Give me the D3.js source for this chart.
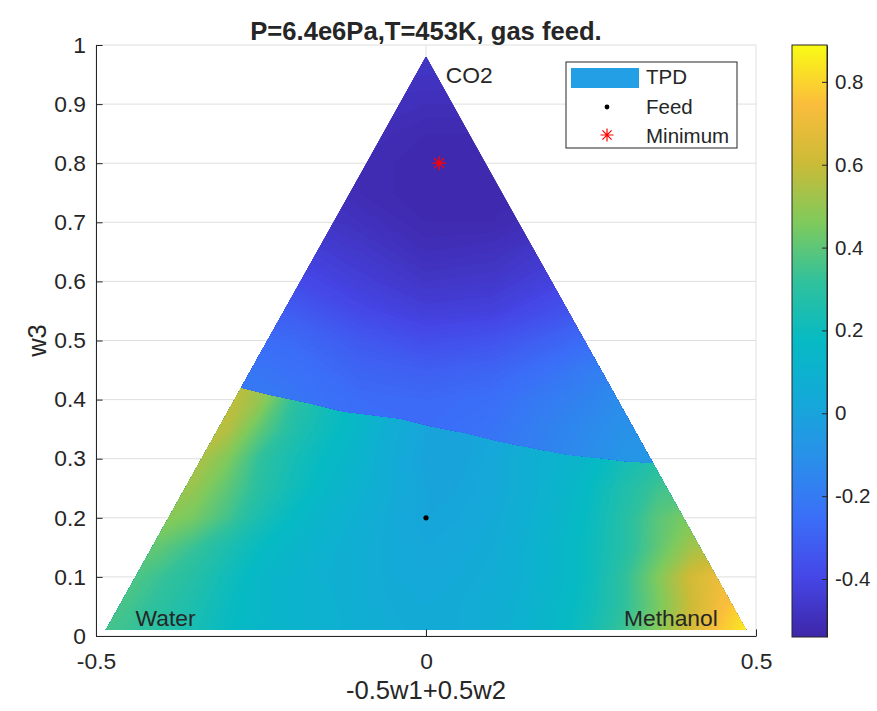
<!DOCTYPE html>
<html>
<head>
<meta charset="utf-8">
<script src="https://cdn.jsdelivr.net/npm/d3@7"></script>
<style>
  body { margin: 0; background: #fff; }
  text { font-family: "Liberation Sans", Arial, Helvetica, sans-serif; fill: #262626; }
</style>
</head>
<body>
<svg id="chart" width="877" height="711"></svg>
<script>
// ternary grid, plotted as x = -0.5*w1 + 0.5*w2, y = w3
const cornerW = [[0.98, 0.01, 0.01], [0.01, 0.98, 0.01], [0.01, 0.01, 0.98]]
const cornerNames = ['Water', 'Methanol', 'CO2']
const cornerLabelAt = [[-0.44, 0.03], [0.30, 0.03], [0.03, 0.95]]

const feed = [0, 0.2]
const minimum = [0.02, 0.8]

const xTicks = [-0.5, 0, 0.5]
const yTicks = [0, 0.1, 0.2, 0.3, 0.4, 0.5, 0.6, 0.7, 0.8, 0.9, 1]
const cbTicks = [-0.4, -0.2, 0, 0.2, 0.4, 0.6, 0.8]
const colorLimits = [-0.54, 0.889]

// TPD below the phase split (rows: w3, cols: x)
const lowerX = [-0.5, -0.45, -0.4, -0.35, -0.3, -0.25, -0.2, -0.15, -0.1, -0.05, 0,
  0.05, 0.1, 0.15, 0.2, 0.25, 0.3, 0.35, 0.4, 0.45, 0.5]
const lowerW3 = [0, 0.05, 0.1, 0.15, 0.2, 0.25, 0.3, 0.35, 0.4, 0.45]
const tpdLower = [
  [0.36, 0.33, 0.29, 0.23, 0.18, 0.14, 0.12, 0.10, 0.08, 0.06, 0.04, 0.05, 0.07, 0.11, 0.16, 0.23, 0.34, 0.47, 0.63, 0.79, 0.89],
  [0.38, 0.35, 0.30, 0.25, 0.19, 0.15, 0.12, 0.10, 0.07, 0.05, 0.04, 0.05, 0.07, 0.10, 0.15, 0.21, 0.31, 0.44, 0.60, 0.74, 0.84],
  [0.41, 0.38, 0.33, 0.28, 0.21, 0.15, 0.12, 0.09, 0.07, 0.04, 0.03, 0.04, 0.06, 0.09, 0.14, 0.20, 0.31, 0.46, 0.62, 0.71, 0.74],
  [0.45, 0.43, 0.40, 0.33, 0.25, 0.18, 0.14, 0.10, 0.07, 0.04, 0.02, 0.03, 0.05, 0.09, 0.14, 0.20, 0.28, 0.40, 0.52, 0.58, 0.60],
  [0.50, 0.50, 0.49, 0.44, 0.35, 0.24, 0.17, 0.12, 0.08, 0.04, 0.01, 0.02, 0.04, 0.08, 0.13, 0.19, 0.28, 0.39, 0.46, 0.48, 0.50],
  [0.54, 0.54, 0.53, 0.50, 0.40, 0.29, 0.21, 0.15, 0.10, 0.05, 0.01, 0.01, 0.03, 0.07, 0.12, 0.18, 0.26, 0.34, 0.38, 0.40, 0.40],
  [0.56, 0.56, 0.56, 0.56, 0.46, 0.31, 0.23, 0.17, 0.12, 0.05, 0.00, 0.00, 0.03, 0.07, 0.11, 0.15, 0.22, 0.28, 0.30, 0.30, 0.30],
  [0.58, 0.58, 0.58, 0.58, 0.56, 0.40, 0.27, 0.20, 0.14, 0.06, 0.01, 0.00, 0.02, 0.05, 0.09, 0.13, 0.20, 0.25, 0.25, 0.25, 0.25],
  [0.60, 0.60, 0.60, 0.60, 0.60, 0.50, 0.31, 0.22, 0.16, 0.08, 0.02, 0.00, 0.02, 0.05, 0.08, 0.12, 0.18, 0.20, 0.20, 0.20, 0.20],
  [0.60, 0.60, 0.60, 0.60, 0.60, 0.55, 0.35, 0.24, 0.17, 0.09, 0.03, 0.00, 0.02, 0.05, 0.08, 0.12, 0.16, 0.18, 0.18, 0.18, 0.18]
]

// TPD above the phase split
const upperX = [-0.5, -0.4, -0.3, -0.2, -0.1, 0, 0.1, 0.2, 0.3, 0.4, 0.5]
const upperW3 = [0.25, 0.3, 0.35, 0.4, 0.45, 0.5, 0.55, 0.6, 0.65, 0.7, 0.75, 0.8, 0.85, 0.9, 0.95, 1]
const tpdUpper = [
  [-0.22, -0.22, -0.22, -0.23, -0.24, -0.24, -0.21, -0.14, -0.07, -0.03, -0.01],
  [-0.22, -0.22, -0.22, -0.23, -0.24, -0.25, -0.22, -0.15, -0.08, -0.05, -0.03],
  [-0.21, -0.21, -0.21, -0.22, -0.25, -0.26, -0.23, -0.16, -0.10, -0.07, -0.05],
  [-0.20, -0.20, -0.20, -0.22, -0.26, -0.27, -0.25, -0.19, -0.12, -0.10, -0.10],
  [-0.21, -0.21, -0.21, -0.24, -0.29, -0.31, -0.29, -0.23, -0.16, -0.14, -0.14],
  [-0.25, -0.25, -0.25, -0.27, -0.33, -0.37, -0.35, -0.29, -0.22, -0.20, -0.20],
  [-0.30, -0.30, -0.30, -0.32, -0.39, -0.43, -0.42, -0.36, -0.28, -0.26, -0.26],
  [-0.36, -0.36, -0.36, -0.38, -0.43, -0.47, -0.46, -0.41, -0.35, -0.33, -0.33],
  [-0.41, -0.41, -0.41, -0.42, -0.46, -0.50, -0.49, -0.45, -0.41, -0.41, -0.41],
  [-0.45, -0.45, -0.45, -0.46, -0.49, -0.52, -0.52, -0.49, -0.46, -0.46, -0.46],
  [-0.47, -0.47, -0.47, -0.48, -0.51, -0.53, -0.53, -0.51, -0.48, -0.48, -0.48],
  [-0.48, -0.48, -0.48, -0.49, -0.51, -0.53, -0.53, -0.51, -0.49, -0.49, -0.49],
  [-0.48, -0.48, -0.48, -0.49, -0.50, -0.52, -0.52, -0.50, -0.49, -0.49, -0.49],
  [-0.47, -0.47, -0.47, -0.48, -0.49, -0.50, -0.50, -0.49, -0.48, -0.48, -0.48],
  [-0.46, -0.46, -0.46, -0.46, -0.47, -0.48, -0.48, -0.47, -0.46, -0.46, -0.46],
  [-0.45, -0.45, -0.45, -0.45, -0.46, -0.46, -0.46, -0.46, -0.45, -0.45, -0.45]
]

// where the TPD jumps (x, w3), left to right
const splitLine = [[-0.32, 0.425], [-0.279, 0.42], [-0.236, 0.408], [-0.176, 0.394], [-0.125, 0.38],
  [-0.04, 0.368], [0.011, 0.354], [0.062, 0.343], [0.112, 0.329], [0.162, 0.318], [0.213, 0.307],
  [0.264, 0.301], [0.30, 0.296], [0.38, 0.29]]

// parula colormap
const parulaAt = [0, 0.1, 0.2, 0.3, 0.4, 0.5, 0.6, 0.7, 0.8, 0.9, 1]
const parula = ['#3e26a8', '#4546e6', '#3b6ef8', '#2a8fea', '#14a9d8', '#06bac4',
  '#30c19c', '#7fca5c', '#cbbb37', '#fbbd3c', '#f9fb15']

const svg = d3.select('#chart')
const defs = svg.append('defs')

const x = d3.scaleLinear().domain([-0.5, 0.5]).range([96, 756])
const y = d3.scaleLinear().domain([0, 1]).range([636, 45])
const cb = d3.scaleLinear().domain(colorLimits).range([637, 45])
const color = d3.scaleLinear()
  .domain(parulaAt.map(t => colorLimits[0] + t * (colorLimits[1] - colorLimits[0])))
  .range(parula)
  .clamp(true)

const line = d3.line().x(d => x(d[0])).y(d => y(d[1]))

// grid lines behind the data
const grid = svg.append('g').attr('stroke', '#dfdfdf').attr('stroke-width', 1)
yTicks.forEach(v => {
  grid.append('line').attr('x1', x(-0.5)).attr('x2', x(0.5)).attr('y1', y(v)).attr('y2', y(v))
})
xTicks.forEach(v => {
  grid.append('line').attr('x1', x(v)).attr('x2', x(v)).attr('y1', y(0)).attr('y2', y(1))
})

// clip regions
const tri = cornerW.map(w => [-0.5 * w[0] + 0.5 * w[1], w[2]])
defs.append('clipPath').attr('id', 'tri')
  .append('path').attr('d', line(tri) + 'Z')
const upperRegion = splitLine.concat([[0.6, 0.28], [0.6, 1.1], [-0.6, 1.1], [-0.6, 0.425]])
defs.append('clipPath').attr('id', 'upper')
  .append('path').attr('d', line(upperRegion) + 'Z')

const levelStep = 0.01
const levels = d3.range(-0.56, 0.9, levelStep)

function drawField (g, xs, ws, rows) {
  const dx = xs[1] - xs[0]
  const dw = ws[1] - ws[0]
  const proj = d3.geoTransform({
    point: function (px, py) {
      this.stream.point(x(xs[0] + (px - 0.5) * dx), y(ws[0] + (py - 0.5) * dw))
    }
  })
  const path = d3.geoPath(proj)
  const bands = d3.contours().size([xs.length, ws.length]).thresholds(levels)(rows.flat())
  g.selectAll('path')
    .data(bands.filter(b => b.coordinates.length))
    .join('path')
    .attr('d', path)
    .attr('fill', d => color(d.value + levelStep / 2))
}

const field = svg.append('g').attr('clip-path', 'url(#tri)')
drawField(field.append('g'), lowerX, lowerW3, tpdLower)
drawField(field.append('g').attr('clip-path', 'url(#upper)'), upperX, upperW3, tpdUpper)

// axes
const yAxis = d3.axisLeft(y).tickValues(yTicks).tickFormat(d => String(d))
  .tickSize(-6.6).tickSizeOuter(0).tickPadding(10)
const xAxis = d3.axisBottom(x).tickValues(xTicks).tickFormat(d => String(d))
  .tickSize(-6.6).tickSizeOuter(0).tickPadding(17)

const gy = svg.append('g').attr('transform', 'translate(' + x(-0.5) + ',0)').call(yAxis)
const gx = svg.append('g').attr('transform', 'translate(0,' + y(0) + ')').call(xAxis)
;[gx, gy].forEach(g => {
  g.select('.domain').attr('stroke', '#262626')
  g.selectAll('.tick line').attr('stroke', '#262626')
  g.selectAll('.tick text').attr('font-size', 22.8).attr('font-family', null).attr('fill', '#262626')
})

// corner names
svg.append('g').selectAll('text')
  .data(cornerNames)
  .join('text')
  .attr('x', (d, i) => x(cornerLabelAt[i][0]))
  .attr('y', (d, i) => y(cornerLabelAt[i][1]))
  .attr('dy', '0.36em')
  .attr('font-size', 22.8)
  .text(d => d)

// feed point and TPD minimum
const asterisk = {
  draw (ctx, size) {
    const r = Math.sqrt(size) / 2
    const q = r * Math.SQRT1_2
    ctx.moveTo(-r, 0); ctx.lineTo(r, 0)
    ctx.moveTo(0, -r); ctx.lineTo(0, r)
    ctx.moveTo(-q, -q); ctx.lineTo(q, q)
    ctx.moveTo(-q, q); ctx.lineTo(q, -q)
  }
}
const star = d3.symbol().type(asterisk).size(196)

svg.append('circle').attr('cx', x(feed[0])).attr('cy', y(feed[1])).attr('r', 2.6).attr('fill', '#000')
svg.append('path').attr('d', star)
  .attr('transform', 'translate(' + x(minimum[0]) + ',' + y(minimum[1]) + ')')
  .attr('fill', 'none').attr('stroke', '#ff0000').attr('stroke-width', 1.3)

// title and axis labels
svg.append('text').attr('x', x(0)).attr('y', 40).attr('text-anchor', 'middle')
  .attr('font-size', 25.6).attr('font-weight', 'bold').attr('fill', '#000')
  .text('P=6.4e6Pa,T=453K, gas feed.')
svg.append('text').attr('x', x(0)).attr('y', 699).attr('text-anchor', 'middle')
  .attr('font-size', 25.6).text('-0.5w1+0.5w2')
svg.append('text').attr('transform', 'translate(46,' + y(0.5) + ') rotate(-90)')
  .attr('text-anchor', 'middle').attr('font-size', 25.6).text('w3')

// legend
const lg = svg.append('g').attr('transform', 'translate(566,62)')
lg.append('rect').attr('width', 171).attr('height', 86)
  .attr('fill', '#fff').attr('stroke', '#262626').attr('stroke-width', 1)
lg.append('rect').attr('x', 5).attr('y', 6).attr('width', 68).attr('height', 20).attr('fill', '#23a0e5')
lg.append('circle').attr('cx', 41).attr('cy', 45).attr('r', 2.4).attr('fill', '#000')
lg.append('path').attr('d', d3.symbol().type(asterisk).size(169))
  .attr('transform', 'translate(41,73)')
  .attr('fill', 'none').attr('stroke', '#ff0000').attr('stroke-width', 1.2)
lg.selectAll('text.item')
  .data(['TPD', 'Feed', 'Minimum'])
  .join('text')
  .attr('class', 'item')
  .attr('x', 80)
  .attr('y', (d, i) => 15 + i * 29.5)
  .attr('dy', '0.36em')
  .attr('font-size', 20.5)
  .text(d => d)

// colorbar
const grad = defs.append('linearGradient').attr('id', 'parula')
  .attr('x1', 0).attr('y1', 1).attr('x2', 0).attr('y2', 0)
grad.selectAll('stop')
  .data(parulaAt)
  .join('stop')
  .attr('offset', d => d)
  .attr('stop-color', (d, i) => parula[i])
svg.append('rect').attr('x', 792).attr('y', cb.range()[1]).attr('width', 35)
  .attr('height', cb.range()[0] - cb.range()[1]).attr('fill', 'url(#parula)')
const cAxis = d3.axisRight(cb).tickValues(cbTicks).tickFormat(d => String(d))
  .tickSize(-5).tickSizeOuter(0).tickPadding(8)
const gc = svg.append('g').attr('transform', 'translate(827,0)').call(cAxis)
gc.select('.domain').attr('stroke', '#262626')
gc.selectAll('.tick line').attr('stroke', '#262626')
gc.selectAll('.tick text').attr('font-size', 20.5).attr('font-family', null).attr('fill', '#262626')
svg.append('rect').attr('x', 792).attr('y', cb.range()[1]).attr('width', 35)
  .attr('height', cb.range()[0] - cb.range()[1])
  .attr('fill', 'none').attr('stroke', '#262626').attr('stroke-width', 1)
</script>
</body>
</html>
